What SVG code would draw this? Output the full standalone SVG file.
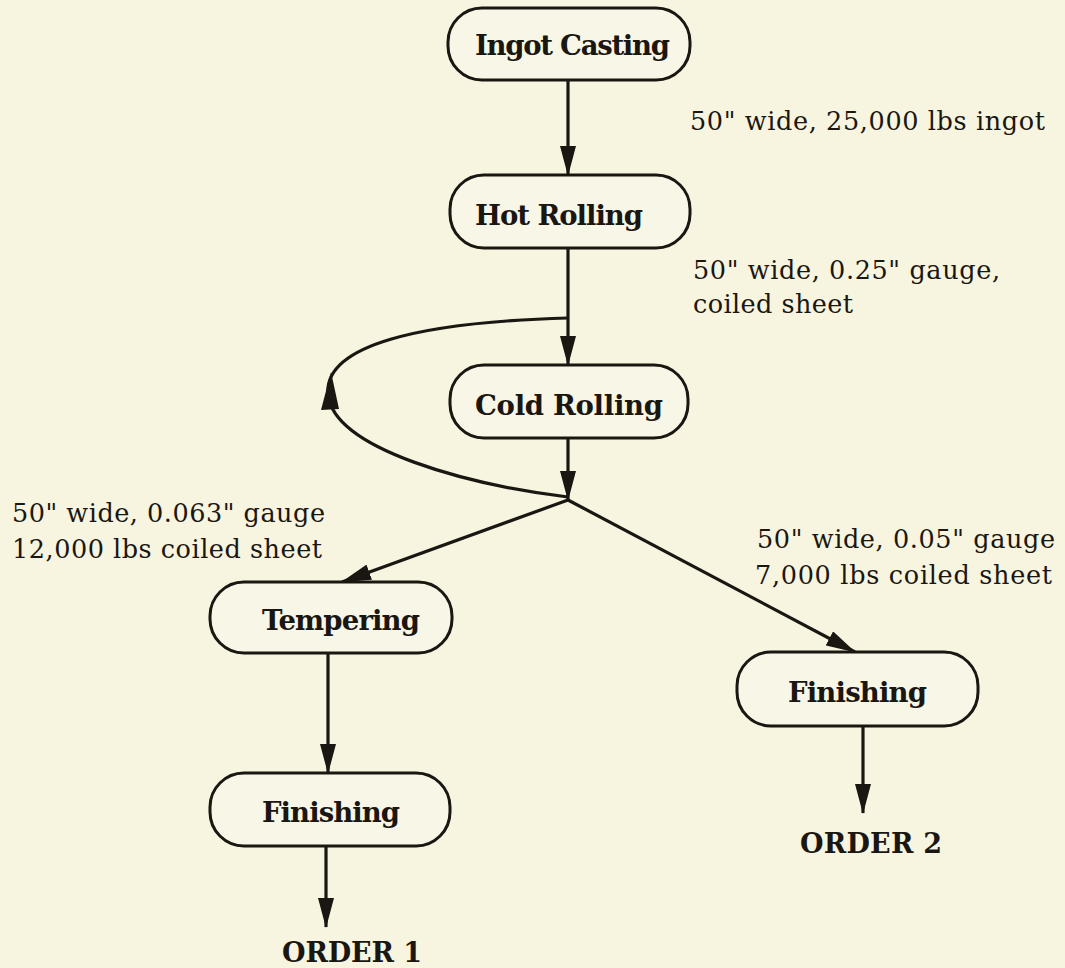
<svg xmlns="http://www.w3.org/2000/svg" width="1065" height="968" viewBox="0 0 1065 968">
<defs>
<style>
.bg{fill:#f7f4df}
.node rect{fill:#f8f6e6;stroke:#1a1712;stroke-width:3}
.nt{font-family:"DejaVu Serif","Liberation Serif",serif;font-weight:bold;font-size:27.5px;fill:#1a1712}
.lbl{font-family:"DejaVu Serif","Liberation Serif",serif;font-size:25.5px;fill:#1a1712}
.ord{font-family:"DejaVu Serif","Liberation Serif",serif;font-weight:bold;font-size:27px;fill:#1a1712}
.edge{fill:none;stroke:#1a1712;stroke-width:3.2}
.head{fill:#1a1712}
</style>
<marker id="arr" viewBox="0 0 30 16" refX="29" refY="8" markerWidth="30" markerHeight="16" orient="auto" markerUnits="userSpaceOnUse">
<path d="M0,0 L30,8 L0,16 Z" class="head"/>
</marker>
</defs>
<rect class="bg" x="0" y="0" width="1065" height="968"/>

<g id="connectors">
<line class="edge" x1="568" y1="80" x2="568" y2="175" marker-end="url(#arr)"/>
<line class="edge" x1="568" y1="248" x2="568" y2="365" marker-end="url(#arr)"/>
<path class="edge" d="M568,318 C420,322 323,345 328,395 C335,450 470,485 568,497"/>
<path class="head" d="M331,372 L321,410 L339,409 Z"/>
<line class="edge" x1="568" y1="438" x2="568" y2="500" marker-end="url(#arr)"/>
<line class="edge" x1="568" y1="500" x2="342" y2="582" marker-end="url(#arr)"/>
<line class="edge" x1="568" y1="500" x2="855" y2="652" marker-end="url(#arr)"/>
<line class="edge" x1="328" y1="653" x2="328" y2="773" marker-end="url(#arr)"/>
<line class="edge" x1="326" y1="846" x2="326" y2="927" marker-end="url(#arr)"/>
<line class="edge" x1="863" y1="726" x2="863" y2="813" marker-end="url(#arr)"/>
</g>

<g id="ingot-casting" class="node">
<rect x="448" y="8" width="242" height="72" rx="34" ry="34"/>
<text class="nt" x="475" y="55" textLength="195">Ingot Casting</text>
</g>
<g id="hot-rolling" class="node">
<rect x="450" y="175" width="240" height="73" rx="34" ry="34"/>
<text class="nt" x="475" y="225" textLength="168">Hot Rolling</text>
</g>
<g id="cold-rolling" class="node">
<rect x="450" y="365" width="238" height="73" rx="34" ry="34"/>
<text class="nt" x="475" y="415" textLength="188">Cold Rolling</text>
</g>
<g id="tempering" class="node">
<rect x="210" y="582" width="242" height="71" rx="34" ry="34"/>
<text class="nt" x="262" y="630" textLength="158">Tempering</text>
</g>
<g id="finishing-1" class="node">
<rect x="210" y="773" width="240" height="73" rx="34" ry="34"/>
<text class="nt" x="262" y="822" textLength="138">Finishing</text>
</g>
<g id="finishing-2" class="node">
<rect x="737" y="652" width="241" height="74" rx="34" ry="34"/>
<text class="nt" x="788" y="702" textLength="139">Finishing</text>
</g>
<g id="order-1">
<text class="ord" x="282" y="962" textLength="140">ORDER 1</text>
</g>
<g id="order-2">
<text class="ord" x="800" y="853" textLength="142">ORDER 2</text>
</g>

<g id="labels">
<text class="lbl" x="690" y="130" textLength="355">50" wide, 25,000 lbs ingot</text>
<text class="lbl" x="693" y="279" textLength="307">50" wide, 0.25" gauge,</text>
<text class="lbl" x="693" y="313" textLength="160">coiled sheet</text>
<text class="lbl" x="12" y="522" textLength="313">50" wide, 0.063" gauge</text>
<text class="lbl" x="12" y="558" textLength="310">12,000 lbs coiled sheet</text>
<text class="lbl" x="757" y="548" textLength="298">50" wide, 0.05" gauge</text>
<text class="lbl" x="755" y="584" textLength="297">7,000 lbs coiled sheet</text>
</g>
</svg>
